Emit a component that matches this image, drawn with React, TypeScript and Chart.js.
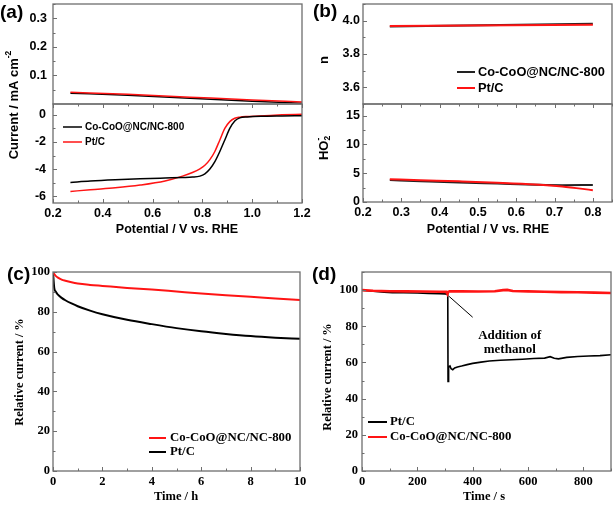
import React, { useEffect, useRef } from "react";
import { Chart, registerables } from "chart.js";

Chart.register(...registerables);

const SANS = '"Liberation Sans", Arial, Helvetica, sans-serif';
const SERIF = '"Liberation Serif", "Times New Roman", Times, serif';
const RED = "#ff1414";
const BLACK = "#000000";
const FRAME = "#6e6e6e";

// ---------- (a) ring / disk currents ----------
const labelCoCoO = "Co-CoO@NC/NC-800";
const labelPtC = "Pt/C";

const aRingPotential = [0.27, 0.5, 0.75, 1.0, 1.2];
const aRingCoCoO = [0.038, 0.031, 0.02, 0.01, 0.003];
const aRingPtC = [0.041, 0.034, 0.024, 0.014, 0.007];

const aDiskPotential = [0.27, 0.35, 0.45, 0.55, 0.65, 0.72, 0.76, 0.79, 0.81, 0.83, 0.85, 0.87, 0.89, 0.91, 0.93, 0.95, 0.98, 1.05, 1.12, 1.2];
const aDiskCoCoO = [-4.98, -4.88, -4.79, -4.72, -4.66, -4.62, -4.59, -4.52, -4.35, -4.0, -3.45, -2.7, -1.85, -1.0, -0.45, -0.22, -0.15, -0.1, -0.08, -0.06];
const aDiskPtC = [-5.65, -5.52, -5.38, -5.18, -4.88, -4.52, -4.25, -3.98, -3.72, -3.3, -2.7, -1.85, -1.0, -0.5, -0.25, -0.17, -0.12, -0.06, 0.0, 0.05];

const aXTicks = [0.2, 0.4, 0.6, 0.8, 1.0, 1.2];
const aRingYTicks = [0.1, 0.2, 0.3];
const aDiskYTicks = [-6, -4, -2, 0];

// ---------- (b) electron number / peroxide ----------
const bRingPotential = [0.27, 0.8];
const bRingCoCoO = [3.965, 3.982];
const bRingPtC = [3.968, 3.976];

const bDiskPotential = [0.27, 0.35, 0.45, 0.55, 0.65, 0.72, 0.8];
const bDiskCoCoO = [3.8, 3.62, 3.4, 3.2, 3.0, 2.92, 2.95];
const bDiskPtC = [3.95, 3.78, 3.58, 3.35, 3.05, 2.7, 2.05];

const bXTicks = [0.2, 0.3, 0.4, 0.5, 0.6, 0.7, 0.8];
const bRingYTicks = [3.6, 3.8, 4.0];
const bDiskYTicks = [0, 5, 10, 15];

// ---------- (c) durability ----------
const cTime = [0, 0.05, 0.1, 0.2, 0.35, 0.5, 0.75, 1, 1.5, 2, 3, 4, 5, 6, 7, 8, 9, 10];
const cCoCoO = [100, 99, 98.2, 97.2, 96.2, 95.6, 94.8, 94.2, 93.5, 93.0, 92.0, 91.2, 90.2, 89.2, 88.3, 87.6, 86.7, 85.9];
const cPtC = [100, 92, 90.3, 88.6, 87, 85.8, 84.2, 82.8, 80.6, 78.8, 76, 73.8, 71.8, 70.2, 68.9, 67.8, 67, 66.4];
const cXTicks = [0, 2, 4, 6, 8, 10];
const cYTicks = [0, 20, 40, 60, 80, 100];

// ---------- (d) methanol tolerance ----------
const dTimePtC = [0, 20, 50, 80, 110, 150, 200, 240, 280, 300, 308, 310, 311, 312, 314, 318, 322, 328, 335, 345, 360, 380, 400, 430, 460, 500, 540, 580, 620, 660, 680, 695, 710, 740, 780, 820, 860, 900];
const dPtC = [100, 99.6, 99.2, 98.8, 98.6, 98.5, 98.4, 98.2, 98.0, 97.9, 97.7, 97, 49.5, 55, 57.5, 58, 56.5, 56, 57, 57.5, 58, 58.8, 59.5, 60.2, 60.8, 61.2, 61.5, 61.8, 62.2, 62.4, 63.2, 62.3, 62.0, 62.8, 63.3, 63.6, 63.8, 64.3];
const dTimeCoCoO = [0, 40, 100, 160, 220, 280, 305, 309, 312, 316, 360, 420, 480, 510, 525, 545, 600, 660, 720, 780, 840, 900];
const dCoCoO = [100, 99.6, 99.4, 99.3, 99.2, 99.1, 99.0, 97.8, 99.0, 99.3, 99.3, 99.2, 99.4, 100.0, 100.1, 99.5, 99.3, 99.1, 98.9, 98.8, 98.6, 98.4];
const dXTicks = [0, 200, 400, 600, 800];
const dYTicks = [0, 20, 40, 60, 80, 100];
const dNoteLines = ["Addition of", "methanol"];
const dNoteAnchor = [534, 75, 67]; // x (s), y of line 1, y of line 2 (%)
const dArrow = [
  [315, 96.5],
  [400, 85],
];

// ---------- helpers ----------
type Series = { label: string; xs: number[]; ys: number[]; color: string; width: number; smooth: boolean; order: number };
type Axis = { min: number; max: number; ticks: number[]; decimals: number; show: boolean; pad: number };
type Spec = {
  id: string;
  canvas: [number, number, number, number];
  plot: [number, number, number, number];
  font: string;
  tickSize: number;
  x: Axis;
  y: Axis;
  series: Series[];
  topTicks?: boolean;
  bottomTicks?: boolean;
  decor?: (ctx: CanvasRenderingContext2D, chart: any, ox: number, oy: number) => void;
};

type Part = { t: string; f: string; dy: number; stack?: boolean };

function rich(ctx: CanvasRenderingContext2D, parts: Part[], cx: number, cy: number, rotate: boolean) {
  ctx.save();
  ctx.translate(cx, cy);
  if (rotate) ctx.rotate(-Math.PI / 2);
  ctx.textBaseline = "middle";
  ctx.textAlign = "left";
  ctx.fillStyle = "#000";
  let total = 0;
  let last = 0;
  const widths = parts.map((p) => {
    ctx.font = p.f;
    return ctx.measureText(p.t).width;
  });
  parts.forEach((p, i) => {
    if (p.stack) {
      total = total - last + Math.max(last, widths[i]);
    } else {
      total += widths[i];
      last = widths[i];
    }
  });
  let x = -total / 2;
  let prevStart = x;
  parts.forEach((p, i) => {
    ctx.font = p.f;
    if (p.stack) {
      ctx.fillText(p.t, prevStart, p.dy);
    } else {
      prevStart = x;
      ctx.fillText(p.t, x, p.dy);
      x += widths[i];
    }
  });
  ctx.restore();
}

function text(ctx: CanvasRenderingContext2D, s: string, x: number, y: number, font: string, align: CanvasTextAlign = "left") {
  ctx.save();
  ctx.font = font;
  ctx.fillStyle = "#000";
  ctx.textAlign = align;
  ctx.textBaseline = "middle";
  ctx.fillText(s, x, y);
  ctx.restore();
}

function legend(ctx: CanvasRenderingContext2D, items: Series[], x1: number, x2: number, tx: number, ys: number[], font: string, lw: number) {
  items.forEach((s, i) => {
    ctx.save();
    ctx.strokeStyle = s.color;
    ctx.lineWidth = lw;
    ctx.beginPath();
    ctx.moveTo(x1, ys[i]);
    ctx.lineTo(x2, ys[i]);
    ctx.stroke();
    ctx.restore();
    text(ctx, s.label, tx, ys[i], font);
  });
}

function minorValues(major: number[], min: number, max: number) {
  const step = major[1] - major[0];
  const out: number[] = [];
  for (let v = major[0] - step / 2; v <= max + 1e-9; v += step) {
    if (v >= min - 1e-9) out.push(v);
  }
  return out;
}

function framePlugin(spec: Spec) {
  return {
    id: "frame_" + spec.id,
    afterDraw(chart: any) {
      const ctx: CanvasRenderingContext2D = chart.ctx;
      const a = chart.chartArea;
      const sx = chart.scales.x;
      const sy = chart.scales.y;
      ctx.save();
      ctx.strokeStyle = FRAME;
      ctx.lineWidth = 1;
      const line = (x1: number, y1: number, x2: number, y2: number) => {
        ctx.beginPath();
        ctx.moveTo(x1, y1);
        ctx.lineTo(x2, y2);
        ctx.stroke();
      };
      const yMaj = spec.y.ticks;
      const yMin = minorValues(yMaj, spec.y.min, spec.y.max);
      yMaj.forEach((v) => {
        const p = Math.round(sy.getPixelForValue(v)) + 0.5;
        line(a.left, p, a.left + 4, p);
      });
      yMin.forEach((v) => {
        const p = Math.round(sy.getPixelForValue(v)) + 0.5;
        line(a.left, p, a.left + 2.5, p);
      });
      const xMaj = spec.x.ticks;
      const xMin = minorValues(xMaj, spec.x.min, spec.x.max);
      const doX = (edge: number, dir: number) => {
        xMaj.forEach((v) => {
          const p = Math.round(sx.getPixelForValue(v)) + 0.5;
          line(p, edge, p, edge + dir * 4);
        });
        xMin.forEach((v) => {
          const p = Math.round(sx.getPixelForValue(v)) + 0.5;
          line(p, edge, p, edge + dir * 2.5);
        });
      };
      if (spec.bottomTicks !== false) doX(a.bottom, -1);
      if (spec.topTicks) doX(a.top, 1);
      ctx.lineWidth = 1.3;
      ctx.strokeRect(a.left, a.top, a.right - a.left, a.bottom - a.top);
      ctx.restore();
      if (spec.decor) {
        ctx.save();
        ctx.translate(-spec.canvas[0], -spec.canvas[1]);
        spec.decor(ctx, chart, spec.canvas[0], spec.canvas[1]);
        ctx.restore();
      }
    },
  };
}

function buildConfig(spec: Spec) {
  const [cl, ct, cw, ch] = spec.canvas;
  const [pl, pt, pr, pb] = spec.plot;
  const yW = pl - cl;
  const xH = ct + ch - pb;
  const padT = pt - ct;
  const padR = cl + cw - pr;
  const tickFont = { family: spec.font, size: spec.tickSize, weight: "bold" as const };
  const zeroPad = (s: any) => {
    s.paddingTop = 0;
    s.paddingBottom = 0;
    s.paddingLeft = 0;
    s.paddingRight = 0;
  };
  return {
    type: "line",
    data: {
      datasets: spec.series.map((s) => ({
        label: s.label,
        data: s.xs.map((x, i) => ({ x, y: s.ys[i] })),
        borderColor: s.color,
        backgroundColor: s.color,
        borderWidth: s.width,
        pointRadius: 0,
        fill: false,
        tension: 0,
        cubicInterpolationMode: s.smooth ? "monotone" : "default",
        order: s.order,
      })),
    },
    options: {
      responsive: false,
      animation: false,
      events: [],
      layout: { padding: { left: 0, top: padT, right: padR, bottom: 0 }, autoPadding: false },
      plugins: { legend: { display: false }, tooltip: { enabled: false }, title: { display: false } },
      scales: {
        x: {
          type: "linear",
          min: spec.x.min,
          max: spec.x.max,
          grid: { display: false, drawTicks: false },
          border: { display: false },
          ticks: {
            display: spec.x.show,
            font: tickFont,
            color: "#000",
            padding: spec.x.pad,
            maxRotation: 0,
            autoSkip: false,
            callback: (v: any) => Number(v).toFixed(spec.x.decimals),
          },
          afterBuildTicks: (s: any) => {
            s.ticks = spec.x.ticks.map((v) => ({ value: v }));
          },
          afterFit: (s: any) => {
            s.height = xH;
            zeroPad(s);
          },
        },
        y: {
          type: "linear",
          min: spec.y.min,
          max: spec.y.max,
          grid: { display: false, drawTicks: false },
          border: { display: false },
          ticks: {
            display: spec.y.show,
            font: tickFont,
            color: "#000",
            padding: spec.y.pad,
            autoSkip: false,
            callback: (v: any) => Number(v).toFixed(spec.y.decimals),
          },
          afterBuildTicks: (s: any) => {
            s.ticks = spec.y.ticks.map((v) => ({ value: v }));
          },
          afterFit: (s: any) => {
            s.width = yW;
            zeroPad(s);
          },
        },
      },
    },
    plugins: [framePlugin(spec)],
  };
}

// ---------- series ----------
const aRingSeries: Series[] = [
  { label: labelCoCoO, xs: aRingPotential, ys: aRingCoCoO, color: BLACK, width: 1.5, smooth: true, order: 1 },
  { label: labelPtC, xs: aRingPotential, ys: aRingPtC, color: RED, width: 1.5, smooth: true, order: 0 },
];
const aDiskSeries: Series[] = [
  { label: labelCoCoO, xs: aDiskPotential, ys: aDiskCoCoO, color: BLACK, width: 1.5, smooth: true, order: 0 },
  { label: labelPtC, xs: aDiskPotential, ys: aDiskPtC, color: RED, width: 1.5, smooth: true, order: 1 },
];
const bRingSeries: Series[] = [
  { label: labelCoCoO, xs: bRingPotential, ys: bRingCoCoO, color: "#222", width: 2, smooth: true, order: 1 },
  { label: labelPtC, xs: bRingPotential, ys: bRingPtC, color: RED, width: 2, smooth: true, order: 0 },
];
const bDiskSeries: Series[] = [
  { label: labelCoCoO, xs: bDiskPotential, ys: bDiskCoCoO, color: "#222", width: 2, smooth: true, order: 1 },
  { label: labelPtC, xs: bDiskPotential, ys: bDiskPtC, color: RED, width: 2, smooth: true, order: 0 },
];
const cSeries: Series[] = [
  { label: labelCoCoO, xs: cTime, ys: cCoCoO, color: RED, width: 2, smooth: true, order: 0 },
  { label: labelPtC, xs: cTime, ys: cPtC, color: BLACK, width: 2, smooth: true, order: 1 },
];
const dSeries: Series[] = [
  { label: labelPtC, xs: dTimePtC, ys: dPtC, color: BLACK, width: 1.6, smooth: false, order: 1 },
  { label: labelCoCoO, xs: dTimeCoCoO, ys: dCoCoO, color: RED, width: 2.6, smooth: false, order: 0 },
];

const SPECS: Spec[] = [
  {
    id: "aRing",
    canvas: [0, 0, 312, 112],
    plot: [53, 4, 302, 104],
    font: SANS,
    tickSize: 12.5,
    x: { min: 0.2, max: 1.2, ticks: aXTicks, decimals: 1, show: false, pad: 2 },
    y: { min: 0, max: 0.35, ticks: aRingYTicks, decimals: 1, show: true, pad: 6 },
    series: aRingSeries,
    bottomTicks: false,
  },
  {
    id: "aDisk",
    canvas: [0, 0, 312, 242],
    plot: [53, 104, 302, 203],
    font: SANS,
    tickSize: 12.5,
    x: { min: 0.2, max: 1.2, ticks: aXTicks, decimals: 1, show: true, pad: 3 },
    y: { min: -6.5, max: 0.8, ticks: aDiskYTicks, decimals: 0, show: true, pad: 7 },
    series: aDiskSeries,
    topTicks: true,
    decor: (ctx) => {
      text(ctx, "(a)", 0, 13, `bold 19px ${SANS}`);
      rich(
        ctx,
        [
          { t: "Current / mA cm", f: `bold 13px ${SANS}`, dy: 0 },
          { t: "-2", f: `bold 8.5px ${SANS}`, dy: -5 },
        ],
        14,
        105,
        true
      );
      text(ctx, "Potential / V vs. RHE", 177, 230, `bold 12.5px ${SANS}`, "center");
      legend(ctx, aDiskSeries, 63, 82, 85, [127, 142], `bold 10px ${SANS}`, 1.5);
    },
  },
  {
    id: "bRing",
    canvas: [306, 0, 308, 112],
    plot: [363, 4, 612, 104],
    font: SANS,
    tickSize: 12.5,
    x: { min: 0.2, max: 0.85, ticks: bXTicks, decimals: 1, show: false, pad: 2 },
    y: { min: 3.5, max: 4.1, ticks: bRingYTicks, decimals: 1, show: true, pad: 3 },
    series: bRingSeries,
    bottomTicks: false,
    decor: (ctx) => {
      legend(ctx, bRingSeries, 457, 475, 478, [72, 88], `bold 12.8px ${SANS}`, 2);
    },
  },
  {
    id: "bDisk",
    canvas: [306, 0, 308, 242],
    plot: [363, 104, 612, 202],
    font: SANS,
    tickSize: 12.5,
    x: { min: 0.2, max: 0.85, ticks: bXTicks, decimals: 1, show: true, pad: 3 },
    y: { min: 0, max: 17, ticks: bDiskYTicks, decimals: 0, show: true, pad: 3 },
    series: bDiskSeries,
    topTicks: true,
    decor: (ctx) => {
      text(ctx, "(b)", 313, 12, `bold 19px ${SANS}`);
      rich(ctx, [{ t: "n", f: `bold 13px ${SANS}`, dy: 0 }], 324, 60, true);
      rich(
        ctx,
        [
          { t: "HO", f: `bold 13px ${SANS}`, dy: 0 },
          { t: "2", f: `bold 8.5px ${SANS}`, dy: 3.5 },
          { t: "-", f: `bold 8.5px ${SANS}`, dy: -5, stack: true },
        ],
        324,
        148,
        true
      );
      text(ctx, "Potential / V vs. RHE", 488, 230, `bold 12.5px ${SANS}`, "center");
    },
  },
  {
    id: "c",
    canvas: [0, 255, 312, 250],
    plot: [53, 272, 300, 471],
    font: SERIF,
    tickSize: 12.5,
    x: { min: 0, max: 10, ticks: cXTicks, decimals: 0, show: true, pad: 3 },
    y: { min: 0, max: 100, ticks: cYTicks, decimals: 0, show: true, pad: 3 },
    series: cSeries,
    decor: (ctx) => {
      text(ctx, "(c)", 7, 275, `bold 19px ${SANS}`);
      rich(ctx, [{ t: "Relative current / %", f: `bold 12.3px ${SERIF}`, dy: 0 }], 20, 372, true);
      text(ctx, "Time / h", 176, 497, `bold 12.5px ${SERIF}`, "center");
      legend(ctx, cSeries, 149, 166, 170, [438, 452], `bold 12.8px ${SERIF}`, 2);
    },
  },
  {
    id: "d",
    canvas: [306, 255, 308, 250],
    plot: [362, 272, 611, 471],
    font: SERIF,
    tickSize: 12.5,
    x: { min: 0, max: 900, ticks: dXTicks, decimals: 0, show: true, pad: 3 },
    y: { min: 0, max: 110, ticks: dYTicks, decimals: 0, show: true, pad: 4 },
    series: dSeries,
    decor: (ctx, chart, ox, oy) => {
      const sx = chart.scales.x;
      const sy = chart.scales.y;
      const px = (v: number) => sx.getPixelForValue(v) + ox;
      const py = (v: number) => sy.getPixelForValue(v) + oy;
      text(ctx, "(d)", 312, 275, `bold 19px ${SANS}`);
      rich(ctx, [{ t: "Relative current / %", f: `bold 12.3px ${SERIF}`, dy: 0 }], 328, 377, true);
      text(ctx, "Time / s", 484, 497, `bold 12.5px ${SERIF}`, "center");
      legend(ctx, dSeries, 368, 387, 390, [422, 437], `bold 12.8px ${SERIF}`, 2);
      text(ctx, dNoteLines[0], px(dNoteAnchor[0]), py(dNoteAnchor[1]), `bold 13px ${SERIF}`, "center");
      text(ctx, dNoteLines[1], px(dNoteAnchor[0]), py(dNoteAnchor[2]), `bold 13px ${SERIF}`, "center");
      ctx.save();
      ctx.strokeStyle = "#000";
      ctx.lineWidth = 1;
      ctx.beginPath();
      ctx.moveTo(px(dArrow[0][0]), py(dArrow[0][1]));
      ctx.lineTo(px(dArrow[1][0]), py(dArrow[1][1]));
      ctx.stroke();
      ctx.restore();
    },
  },
];

export default function App() {
  const refs = useRef<(HTMLCanvasElement | null)[]>([]);
  useEffect(() => {
    const charts = SPECS.map((s, i) => new Chart(refs.current[i] as HTMLCanvasElement, buildConfig(s) as any));
    return () => charts.forEach((c) => c.destroy());
  }, []);
  return (
    <div style={{ position: "absolute", left: 0, top: 0, width: 614, height: 505, overflow: "hidden", background: "#fff" }}>
      {SPECS.map((s, i) => (
        <canvas
          key={s.id}
          ref={(el) => {
            refs.current[i] = el;
          }}
          width={s.canvas[2]}
          height={s.canvas[3]}
          style={{ position: "absolute", left: s.canvas[0], top: s.canvas[1], width: s.canvas[2], height: s.canvas[3] }}
        />
      ))}
    </div>
  );
}
